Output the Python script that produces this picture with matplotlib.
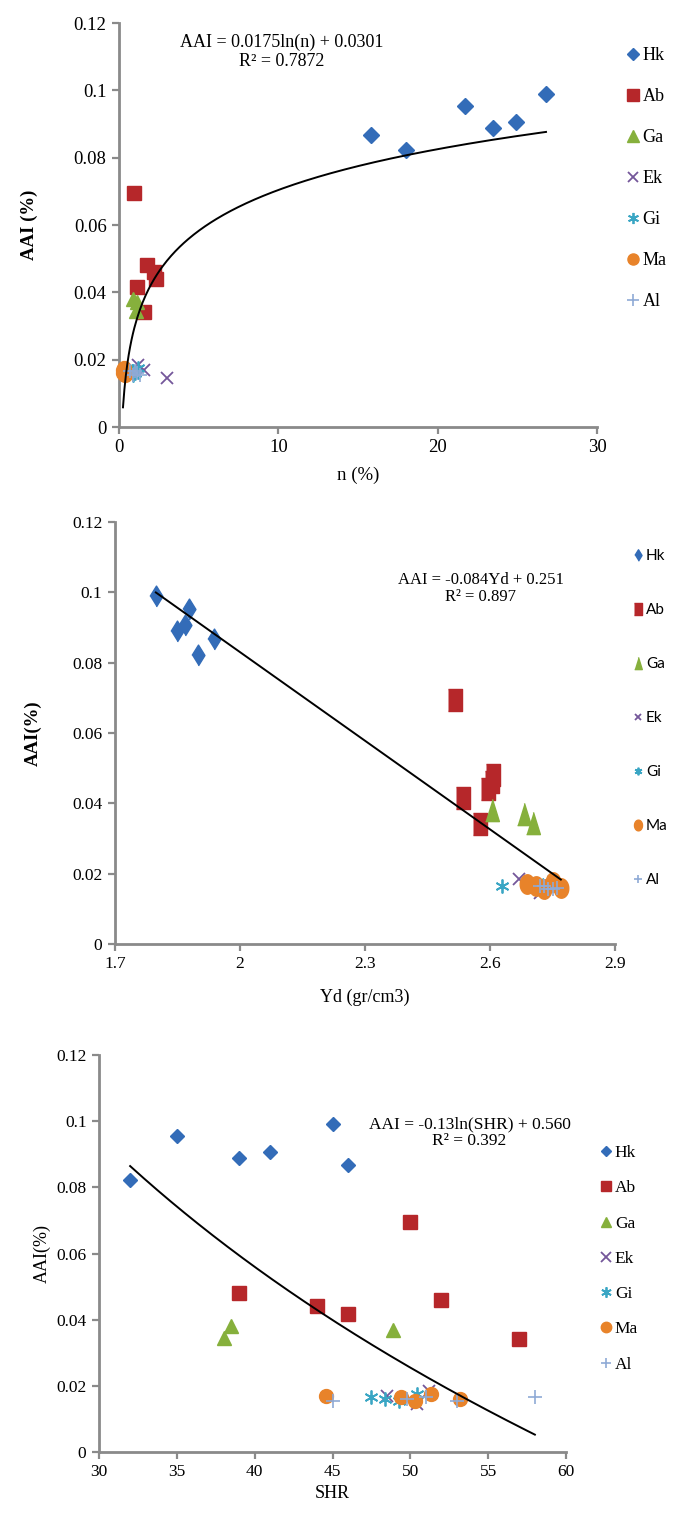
import numpy as np
import matplotlib
matplotlib.use("Agg")
import matplotlib.pyplot as plt
from matplotlib.ticker import FixedLocator, FixedFormatter

plt.rcParams['font.family'] = ['Liberation Serif', 'DejaVu Serif']

# ---------------- data ----------------
groups = ["Hk", "Ab", "Ga", "Ek", "Gi", "Ma", "Al"]

hk_aai = [0.0868, 0.0823, 0.0954, 0.0889, 0.0906, 0.0990]
hk_n   = [15.8, 18.0, 21.7, 23.5, 24.9, 26.8]
hk_yd  = [1.938, 1.899, 1.878, 1.849, 1.868, 1.798]
hk_shr = [46.0, 32.0, 35.0, 39.0, 41.0, 45.0]

ab_aai = [0.0695, 0.0480, 0.0460, 0.0440, 0.0416, 0.0342]
ab_n   = [0.95, 1.77, 2.2, 2.3, 1.15, 1.6]
ab_yd  = [2.516, 2.607, 2.604, 2.596, 2.535, 2.575]
ab_shr = [50.0, 39.0, 52.0, 44.0, 46.0, 57.0]

ga_aai = [0.0345, 0.0380, 0.0370]
ga_n   = [1.05, 0.9, 1.1]
ga_yd  = [2.704, 2.605, 2.682]
ga_shr = [38.0, 38.5, 48.9]

ek_aai = [0.0170, 0.0146, 0.0185]
ek_n   = [1.6, 3.0, 1.2]
ek_yd  = [2.70, 2.72, 2.67]
ek_shr = [48.5, 50.4, 51.2]

gi_aai = [0.0165, 0.0160, 0.0175, 0.0155]
gi_n   = [0.8, 1.0, 1.2, 0.9]
gi_yd  = [2.63, 2.72, 2.74, 2.71]
gi_shr = [47.5, 48.4, 50.4, 49.3]

ma_aai = [0.0170, 0.0165, 0.0155, 0.0175, 0.0160]
ma_n   = [0.25, 0.3, 0.35, 0.3, 0.28]
ma_yd  = [2.69, 2.71, 2.73, 2.75, 2.77]
ma_shr = [44.6, 49.4, 50.3, 51.3, 53.2]

al_aai = [0.0155, 0.0160, 0.0165, 0.0155, 0.0165]
al_n   = [0.9, 1.1, 0.7, 1.3, 1.0]
al_yd  = [2.75, 2.76, 2.73, 2.74, 2.72]
al_shr = [45.0, 49.8, 51.0, 53.0, 58.0]

# trend line coefficients
fit1_a, fit1_b = 0.0175, 0.0301          # AAI = a ln(n) + b
fit2_a, fit2_b = -0.084, 0.251           # AAI = a Yd + b
fit3_a, fit3_b = -0.1365, 0.5595         # AAI = a ln(SHR) + b (as drawn)

yticks = [0, 0.02, 0.04, 0.06, 0.08, 0.1, 0.12]
ytick_labels = ["0", "0.02", "0.04", "0.06", "0.08", "0.1", "0.12"]

colors = {"Hk": "#336CB8", "Ab": "#B6272A", "Ga": "#86B03C", "Ek": "#74579A",
          "Gi": "#3AA6C4", "Ma": "#E8832A", "Al": "#8FAAD6"}

W, H = 682, 1529
fig = plt.figure(figsize=(W / 100, H / 100), dpi=100)


def ax_rect(l, r, t, b):
    return [l / W, 1 - b / H, (r - l) / W, (b - t) / H]


def style_axes(ax, xlim, xticks, xlabels, lsize):
    ax.set_xlim(*xlim)
    ax.set_ylim(0, 0.12)
    for s in ["top", "right"]:
        ax.spines[s].set_visible(False)
    for s in ["left", "bottom"]:
        ax.spines[s].set_color("#8A8A8A")
        ax.spines[s].set_linewidth(2)
    ax.xaxis.set_major_locator(FixedLocator(xticks))
    ax.xaxis.set_major_formatter(FixedFormatter(xlabels))
    ax.yaxis.set_major_locator(FixedLocator(yticks))
    ax.yaxis.set_major_formatter(FixedFormatter(ytick_labels))
    ax.tick_params(direction="out", length=5, width=1.6, color="#8A8A8A",
                   labelsize=lsize, pad=4)


def draw_points(ax, xs, marker_map, legend_fs, legend_family, anchor, spacing, mscale):
    ys = [hk_aai, ab_aai, ga_aai, ek_aai, gi_aai, ma_aai, al_aai]
    handles = []
    for g, x, y in zip(groups, xs, ys):
        mk, ms, mew = marker_map[g]
        h, = ax.plot(x, y, linestyle="none", marker=mk, markersize=ms,
                     color=colors[g], markeredgecolor=colors[g], markeredgewidth=mew,
                     label=g, clip_on=False, zorder=3)
        handles.append(h)
    fig.legend(handles, groups, loc="upper left",
               bbox_to_anchor=(anchor[0] / W, 1 - anchor[1] / H),
               frameon=False, borderpad=0, borderaxespad=0, handlelength=0.7,
               handletextpad=0.15, labelspacing=spacing, markerscale=mscale,
               prop={"family": legend_family, "size": legend_fs})


# ---------------- panel 1 ----------------
ax1 = fig.add_axes(ax_rect(119, 597, 23, 427))
style_axes(ax1, (0, 30), [0, 10, 20, 30], ["0", "10", "20", "30"], 13.5)
m1 = {"Hk": ("D", 7.8, 1), "Ab": ("s", 10, 1), "Ga": ("^", 10, 1),
      "Ek": ("x", 9, 1.3), "Gi": ((6, 2, 0), 10, 1.3), "Ma": ("o", 10, 1),
      "Al": ("+", 10, 1.2)}
draw_points(ax1, [hk_n, ab_n, ga_n, ek_n, gi_n, ma_n, al_n], m1, 13,
            ["Liberation Serif"], (627, 47), 1.33, 0.8)
nf = np.linspace(0.25, max(hk_n), 300)
ax1.plot(nf, fit1_a * np.log(nf) + fit1_b, color="black", lw=1.4, zorder=4)
ax1.text(10.2, 0.1115, "AAI = 0.0175ln(n) + 0.0301\nR² = 0.7872", ha="center", va="center",
         fontsize=13, linespacing=1.15)
ax1.set_xlabel("n (%)", fontsize=13.5, labelpad=7)
ax1.set_ylabel("AAI (%)", fontsize=13.5, fontweight="bold", labelpad=26)

# ---------------- panel 2 ----------------
ax2 = fig.add_axes(ax_rect(115, 615, 522, 944))
style_axes(ax2, (1.7, 2.9), [1.7, 2.0, 2.3, 2.6, 2.9], ["1.7", "2", "2.3", "2.6", "2.9"], 12.5)
tall_diamond = [(0, -1), (0.62, 0), (0, 1), (-0.62, 0)]
tall_square = [(-0.6, -1), (0.6, -1), (0.6, 1), (-0.6, 1)]
tall_tri = [(0, 1), (0.62, -1), (-0.62, -1)]
th = np.linspace(0, 2 * np.pi, 40)
tall_circle = list(zip(0.75 * np.cos(th), np.sin(th)))
m2 = {"Hk": (tall_diamond, 15, 1), "Ab": (tall_square, 16, 1), "Ga": (tall_tri, 16, 1),
      "Ek": ("x", 9, 1.3), "Gi": ((6, 2, 0), 10, 1.3), "Ma": (tall_circle, 14, 1),
      "Al": ("+", 10, 1.2)}
draw_points(ax2, [hk_yd, ab_yd, ga_yd, ek_yd, gi_yd, ma_yd, al_yd], m2, 11,
            ["Lato", "DejaVu Sans"], (633, 549), 2.62, 0.55)
yf = np.linspace(min(hk_yd), 2.77, 50)
ax2.plot(yf, fit2_a * yf + fit2_b, color="black", lw=1.4, zorder=4)
ax2.text(2.578, 0.1011, "AAI = -0.084Yd + 0.251\nR² = 0.897", ha="center", va="center",
         fontsize=12, linespacing=1.15)
ax2.set_xlabel("Yd (gr/cm3)", fontsize=13, labelpad=12)
ax2.set_ylabel("AAI(%)", fontsize=13.5, fontweight="bold", labelpad=22)

# ---------------- panel 3 ----------------
ax3 = fig.add_axes(ax_rect(99, 566, 1055, 1452))
style_axes(ax3, (30, 60), [30, 35, 40, 45, 50, 55, 60],
           ["30", "35", "40", "45", "50", "55", "60"], 12.5)
m3 = {"Hk": ("D", 7.2, 1), "Ab": ("s", 9.5, 1), "Ga": ("^", 9.5, 1),
      "Ek": ("x", 9, 1.3), "Gi": ((6, 2, 0), 10, 1.3), "Ma": ("o", 10, 1),
      "Al": ("+", 10, 1.2)}
draw_points(ax3, [hk_shr, ab_shr, ga_shr, ek_shr, gi_shr, ma_shr, al_shr], m3, 12.5,
            ["Liberation Serif"], (600, 1145), 1.1, 0.75)
sf = np.linspace(min(hk_shr), max(al_shr), 300)
ax3.plot(sf, fit3_a * np.log(sf) + fit3_b, color="black", lw=1.4, zorder=4)
ax3.text(53.8, 0.0965, "AAI = -0.13ln(SHR) + 0.560\nR² = 0.392", ha="center", va="center",
         fontsize=12.5, linespacing=1.1)
ax3.set_xlabel("SHR", fontsize=13, labelpad=3)
ax3.set_ylabel("AAI(%)", fontsize=13, labelpad=4)

fig.savefig("out.png", dpi=100)
